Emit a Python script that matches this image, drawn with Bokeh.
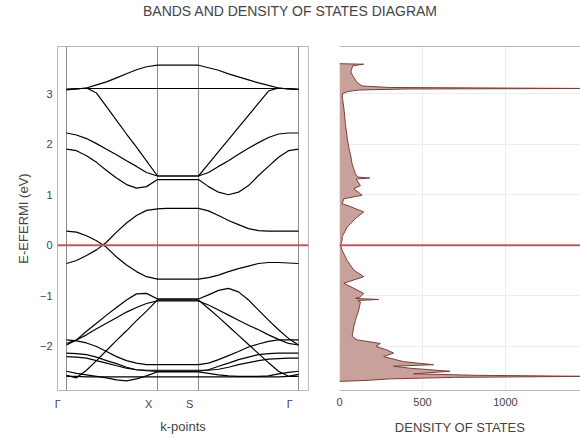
from bokeh.plotting import figure
from bokeh.models import (Span, Range1d, FixedTicker, ColumnDataSource, LinearAxis)
from bokeh.layouts import column, row
from bokeh.embed import file_html
from bokeh.resources import INLINE

# ---------------- data ----------------
kpath = [0.0, 0.1, 0.2, 0.3, 0.4, 0.5, 0.6, 0.7, 0.8, 0.91, 1.0, 1.1, 1.2, 1.32,
         1.42, 1.52, 1.62, 1.72, 1.82, 1.92, 2.02, 2.12, 2.22, 2.32]
sym_k = [0.0, 0.91, 1.32, 2.32]
sym_labels = ["Γ", "X", "S", "Γ"]

band_u1 = [3.07, 3.09, 3.11, 3.17, 3.23, 3.31, 3.39, 3.47, 3.53, 3.56, 3.56, 3.56, 3.56, 3.56,
           3.51, 3.46, 3.39, 3.33, 3.27, 3.21, 3.16, 3.11, 3.09, 3.08]
band_u2 = [3.09, 3.10, 3.10, 3.10, 3.10, 3.10, 3.10, 3.10, 3.10, 3.10, 3.10, 3.10, 3.10, 3.10,
           3.10, 3.10, 3.10, 3.10, 3.10, 3.10, 3.10, 3.10, 3.10, 3.09]
band_u3 = [3.08, 3.09, 3.11, 3.01, 2.74, 2.47, 2.20, 1.94, 1.67, 1.37, 1.37, 1.37, 1.37, 1.37,
           1.61, 1.85, 2.09, 2.33, 2.57, 2.81, 3.05, 3.11, 3.09, 3.08]
band_u4 = [2.22, 2.18, 2.11, 2.01, 1.90, 1.79, 1.67, 1.56, 1.44, 1.37, 1.37, 1.37, 1.37, 1.37,
           1.44, 1.56, 1.67, 1.80, 1.92, 2.03, 2.13, 2.20, 2.22, 2.22]
band_u5 = [1.90, 1.87, 1.77, 1.64, 1.48, 1.33, 1.20, 1.13, 1.16, 1.30, 1.30, 1.30, 1.30, 1.30,
           1.16, 1.05, 1.00, 1.05, 1.18, 1.38, 1.56, 1.74, 1.87, 1.90]
band_c1 = [-0.36, -0.30, -0.20, -0.09, 0.06, 0.26, 0.44, 0.59, 0.69, 0.72, 0.73, 0.73, 0.73, 0.73,
           0.68, 0.59, 0.49, 0.41, 0.33, 0.29, 0.28, 0.28, 0.28, 0.28]
band_v0 = [0.28, 0.26, 0.19, 0.09, -0.04, -0.23, -0.39, -0.52, -0.62, -0.67, -0.67, -0.67, -0.67, -0.67,
           -0.64, -0.59, -0.52, -0.46, -0.41, -0.36, -0.34, -0.34, -0.35, -0.36]
band_v1 = [-1.97, -1.87, -1.70, -1.54, -1.38, -1.23, -1.08, -0.96, -0.95, -1.06, -1.06, -1.06, -1.06, -1.06,
           -0.98, -0.89, -0.85, -0.92, -1.08, -1.28, -1.48, -1.67, -1.84, -1.97]
band_v2 = [-1.94, -1.87, -1.77, -1.65, -1.54, -1.43, -1.32, -1.23, -1.15, -1.10, -1.10, -1.10, -1.10, -1.10,
           -1.18, -1.28, -1.38, -1.48, -1.58, -1.67, -1.77, -1.86, -1.94, -1.97]
band_v3 = [-2.57, -2.62, -2.47, -2.28, -2.08, -1.88, -1.69, -1.49, -1.30, -1.08, -1.08, -1.08, -1.08, -1.08,
           -1.25, -1.42, -1.60, -1.78, -1.96, -2.14, -2.32, -2.49, -2.59, -2.55]
band_v4 = [-1.87, -1.89, -1.93, -2.00, -2.10, -2.20, -2.28, -2.33, -2.36, -2.36, -2.36, -2.36, -2.36, -2.36,
           -2.33, -2.26, -2.18, -2.10, -2.01, -1.95, -1.90, -1.87, -1.87, -1.87]
band_v5 = [-2.13, -2.14, -2.16, -2.21, -2.28, -2.34, -2.41, -2.46, -2.48, -2.49, -2.49, -2.49, -2.49, -2.49,
           -2.46, -2.39, -2.33, -2.26, -2.21, -2.16, -2.14, -2.13, -2.13, -2.13]
band_v6 = [-2.20, -2.21, -2.23, -2.28, -2.33, -2.38, -2.43, -2.46, -2.47, -2.47, -2.47, -2.47, -2.47, -2.47,
           -2.47, -2.45, -2.41, -2.36, -2.32, -2.28, -2.25, -2.24, -2.23, -2.23]
band_v7 = [-2.49, -2.53, -2.56, -2.59, -2.62, -2.66, -2.68, -2.64, -2.58, -2.50, -2.50, -2.50, -2.50, -2.50,
           -2.53, -2.56, -2.58, -2.59, -2.59, -2.59, -2.58, -2.54, -2.51, -2.49]
band_v8 = [-2.59, -2.59, -2.60, -2.60, -2.60, -2.60, -2.60, -2.60, -2.60, -2.60, -2.60, -2.60, -2.60, -2.60,
           -2.60, -2.60, -2.60, -2.60, -2.60, -2.60, -2.60, -2.60, -2.59, -2.59]
bands = [band_u1, band_u2, band_u3, band_u4, band_u5, band_c1, band_v0,
         band_v1, band_v2, band_v3, band_v4, band_v5, band_v6, band_v7, band_v8]

dos_energy = [3.59, 3.58, 3.55, 3.45, 3.41, 3.32, 3.22, 3.15, 3.12, 3.10, 3.09, 3.07, 3.04, 3.00,
              2.95, 2.72, 2.39, 2.13, 1.93, 1.80, 1.61, 1.51, 1.41, 1.35, 1.33, 1.31, 1.28, 1.18,
              1.12, 0.99, 0.92, 0.82, 0.79, 0.66, 0.56, 0.36, 0.17, 0.10, 0.00, -0.10, -0.30,
              -0.49, -0.62, -0.75, -0.85, -0.95, -1.02, -1.05, -1.07, -1.09, -1.12, -1.28, -1.48,
              -1.61, -1.80, -1.87, -1.94, -2.00, -2.07, -2.13, -2.20, -2.30, -2.36, -2.39, -2.43,
              -2.49, -2.54, -2.57, -2.59, -2.61, -2.64, -2.67, -2.69]
dos_values = [0, 146, 80, 70, 70, 86, 106, 136, 300, 1500, 400, 120, 50, 20,
              16, 26, 36, 46, 56, 66, 76, 86, 96, 110, 182, 100, 106, 126,
              86, 136, 26, 16, 46, 146, 106, 46, 16, 16, 6, 16, 46,
              86, 146, 26, 86, 146, 126, 96, 236, 110, 126, 116, 96,
              86, 76, 106, 246, 220, 286, 326, 266, 386, 566, 326, 426,
              666, 446, 826, 1500, 700, 306, 166, 0]

energy_ticks = [-2, -1, 0, 1, 2, 3]
dos_ticks = [0, 500, 1000]

# ---------------- style ----------------
FONT = "Liberation Sans"
TXT = "#444444"
FRAME = "#b8b8b8"
FERMI = "#c0555a"
LABEL_SHIFT = 0.088   # k-point labels sit a little left of their lines

yr = Range1d(-2.87, 3.93)
xr = Range1d(-0.09, 2.42)


def style_axis(ax, label_standoff):
    ax.axis_line_color = None
    ax.major_tick_line_color = None
    ax.minor_tick_line_color = None
    ax.major_tick_out = 0
    ax.major_tick_in = 0
    ax.minor_tick_out = 0
    ax.major_label_text_font = FONT
    ax.major_label_text_font_size = "11px"
    ax.major_label_text_color = TXT
    ax.axis_label_text_font = FONT
    ax.axis_label_text_font_size = "13px"
    ax.axis_label_text_font_style = "normal"
    ax.axis_label_text_color = TXT
    ax.axis_label_standoff = label_standoff


# title strip
pt = figure(width=580, height=40, toolbar_location=None, output_backend="svg",
            x_range=(0, 1), y_range=(0, 1), min_border=0)
pt.axis.visible = False
pt.grid.visible = False
pt.outline_line_color = None
pt.title.text = "BANDS AND DENSITY OF STATES DIAGRAM"
pt.title.align = "center"
pt.title.text_font = FONT
pt.title.text_font_size = "14px"
pt.title.text_font_style = "normal"
pt.title.text_color = TXT
pt.title.standoff = 0

# ---------------- bands panel ----------------
p1 = figure(width=320, height=398, x_range=xr, y_range=yr, x_axis_location=None,
            toolbar_location=None, output_backend="svg",
            min_border_left=57, min_border_right=12, min_border_top=6, min_border_bottom=48)
p1.extra_x_ranges = {"klab": Range1d(xr.start + LABEL_SHIFT, xr.end + LABEL_SHIFT)}
p1.outline_line_color = FRAME
p1.grid.visible = False
for k in sym_k:
    p1.add_layout(Span(location=k, dimension="height", line_color="#8c8c8c",
                       line_width=1, level="underlay"))
p1.multi_line(xs=[kpath] * len(bands), ys=bands, line_color="black", line_width=1.2)
p1.add_layout(Span(location=0, dimension="width", line_color=FERMI, line_width=2))

p1.yaxis.ticker = FixedTicker(ticks=energy_ticks)
p1.yaxis.major_label_overrides = {t: (str(t) if t >= 0 else "\u2212" + str(-t)) for t in energy_ticks}
p1.yaxis.axis_label = "E-EFERMI (eV)"
style_axis(p1.yaxis[0], 6)
p1.yaxis.major_label_standoff = 5

kax = LinearAxis(x_range_name="klab", ticker=FixedTicker(ticks=sym_k),
                 major_label_overrides=dict(zip(sym_k, sym_labels)),
                 axis_label="k-points")
style_axis(kax, 6)
kax.major_label_standoff = 7
p1.add_layout(kax, "below")

# ---------------- DOS panel ----------------
p2 = figure(width=260, height=398, x_range=Range1d(0, 1452), y_range=yr,
            toolbar_location=None, output_backend="svg",
            min_border_left=19, min_border_right=0, min_border_top=6, min_border_bottom=48)
p2.outline_line_color = None
src = ColumnDataSource(dict(energy=dos_energy, dos=dos_values))
p2.harea(x1=0, x2="dos", y="energy", source=src, fill_color="#c9a19b", fill_alpha=1.0)
p2.line(x="dos", y="energy", source=src, line_color="#7b3f3a", line_width=1)
p2.add_layout(Span(location=0, dimension="width", line_color=FERMI, line_width=2))

p2.yaxis.visible = False
p2.ygrid.ticker = FixedTicker(ticks=energy_ticks)
p2.xaxis.ticker = FixedTicker(ticks=dos_ticks)
p2.grid.grid_line_color = "#ededed"
p2.xaxis.axis_label = "DENSITY OF STATES"
style_axis(p2.xaxis[0], 11)
p2.xaxis.axis_line_color = FRAME
p2.xaxis.major_label_standoff = 7
top_ax = LinearAxis(ticker=FixedTicker(ticks=[]), axis_line_color=FRAME,
                    major_tick_line_color=None, minor_tick_line_color=None,
                    major_tick_out=0, major_tick_in=0,
                    major_label_text_font_size="0px", major_label_standoff=0)
p2.add_layout(top_ax, "above")

layout = column(pt, row(p1, p2))
open("out.html", "w").write(file_html(layout, INLINE))
